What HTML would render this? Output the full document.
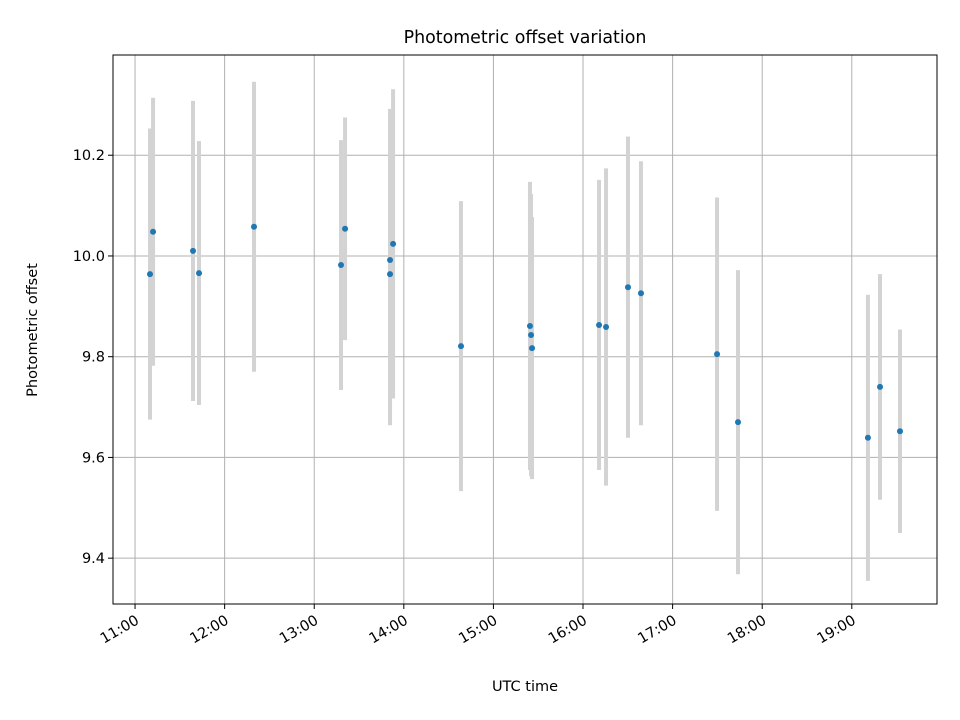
<!DOCTYPE html>
<html><head><meta charset="utf-8"><style>
body{margin:0;background:#fff;}
svg{display:block;font-family:"DejaVu Sans","Liberation Sans",sans-serif;}
</style></head><body>
<svg id="chart" width="960" height="720" xmlns="http://www.w3.org/2000/svg">
<rect width="960" height="720" fill="#fff"/>
<text x="525" y="43" text-anchor="middle" font-size="17.4" fill="#000">Photometric offset variation</text>
<g id="grid"></g>
<g id="bars"></g>
<g id="points"></g>
<g id="axes"></g>
<text x="525" y="691" text-anchor="middle" font-size="14.5">UTC time</text>
<text transform="translate(37,330) rotate(-90)" text-anchor="middle" font-size="14.5">Photometric offset</text>
<rect x="113" y="55" width="824" height="549" fill="none" stroke="#000" stroke-width="1"/>
</svg>
<script>
const times = [11.167,11.201,11.647,11.714,12.328,13.299,13.344,13.846,13.846,13.88,14.638,15.408,15.42,15.431,16.179,16.257,16.502,16.647,17.496,17.73,19.18,19.315,19.538];
const offsets = [9.964,10.048,10.010,9.966,10.058,9.982,10.054,9.992,9.964,10.024,9.821,9.861,9.843,9.817,9.863,9.859,9.938,9.926,9.805,9.670,9.639,9.740,9.652];
const errors = [0.289,0.266,0.298,0.262,0.288,0.248,0.221,0.30,0.30,0.307,0.288,0.286,0.28,0.26,0.288,0.315,0.299,0.262,0.311,0.302,0.284,0.224,0.202];
const xTicks = [11,12,13,14,15,16,17,18,19];
const xTickLabels = ["11:00","12:00","13:00","14:00","15:00","16:00","17:00","18:00","19:00"];
const yTicks = [9.4,9.6,9.8,10.0,10.2];
const yTickLabels = ["9.4","9.6","9.8","10.0","10.2"];

const L=113,R=937,T=55,B=604;
const xMin=10.754,xMax=19.951,yMin=9.309,yMax=10.399;
const X=v=>L+(v-xMin)/(xMax-xMin)*(R-L);
const Y=v=>B-(v-yMin)/(yMax-yMin)*(B-T);
const NS="http://www.w3.org/2000/svg";
function mk(tag,attrs,parent){const e=document.createElementNS(NS,tag);for(const k in attrs)e.setAttribute(k,attrs[k]);parent.appendChild(e);return e;}
const grid=document.getElementById('grid'),bars=document.getElementById('bars'),pts=document.getElementById('points'),axes=document.getElementById('axes');

xTicks.forEach((t,i)=>{
  const x=X(t);
  const g=mk('line',{x1:x,x2:x,y1:T,y2:B,stroke:'#b0b0b0','stroke-width':1},grid);
  
  
  const tk=mk('line',{x1:x,x2:x,y1:B,y2:B+5,stroke:'#000'},axes);
  
  
  const tx=mk('text',{x:0,y:0,'font-size':14.5,'text-anchor':'end',transform:`translate(${x+5},${B+19}) rotate(-30)`},axes);
  tx.textContent=xTickLabels[i];
  
  
});
yTicks.forEach((t,i)=>{
  const y=Y(t);
  const g=mk('line',{x1:L,x2:R,y1:y,y2:y,stroke:'#b0b0b0','stroke-width':1},grid);
  
  
  const tk=mk('line',{x1:L-5,x2:L,y1:y,y2:y,stroke:'#000'},axes);
  
  
  const tx=mk('text',{x:L-8,y:y+5,'font-size':14.5,'text-anchor':'end'},axes);
  tx.textContent=yTickLabels[i];
  
  
});
times.forEach((t,i)=>{
  const x=X(t);
  const b=mk('line',{x1:x,x2:x,y1:Y(offsets[i]+errors[i]),y2:Y(offsets[i]-errors[i]),stroke:'#d3d3d3','stroke-width':4},bars);
  
  
  const c=mk('circle',{cx:x,cy:Y(offsets[i]),r:3,fill:'#1f77b4'},pts);
  
  
});
</script>
</body></html>
